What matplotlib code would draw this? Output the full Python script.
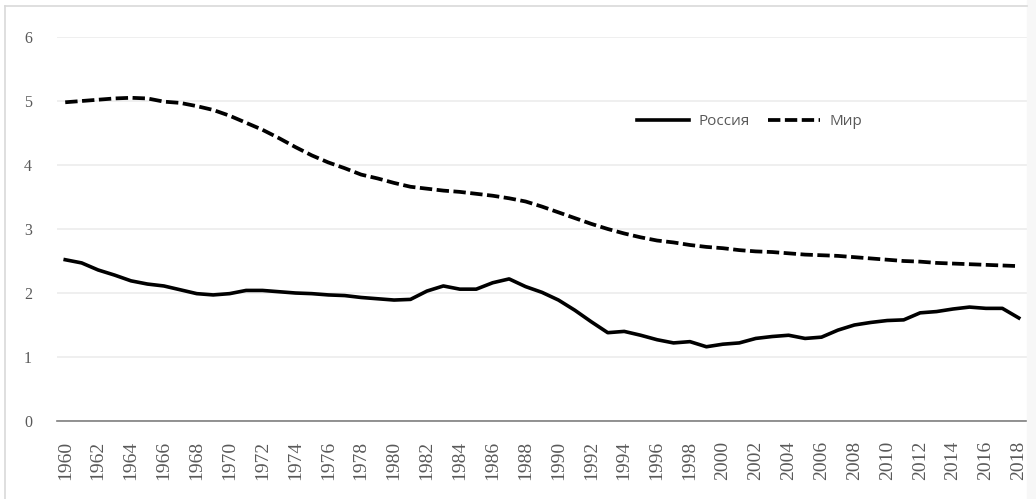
import matplotlib
matplotlib.use("Agg")
import matplotlib.pyplot as plt
import numpy as np

years = list(range(1960, 2019))

russia = [2.52, 2.47, 2.36, 2.28, 2.19, 2.14, 2.11, 2.05, 1.99, 1.97,
          1.99, 2.04, 2.04, 2.02, 2.00, 1.99, 1.97, 1.96, 1.93, 1.91,
          1.89, 1.90, 2.03, 2.11, 2.06, 2.06, 2.16, 2.22, 2.10, 2.01,
          1.89, 1.73, 1.55, 1.38, 1.40, 1.34, 1.27, 1.22, 1.24, 1.16,
          1.20, 1.22, 1.29, 1.32, 1.34, 1.29, 1.31, 1.42, 1.50, 1.54,
          1.57, 1.58, 1.69, 1.71, 1.75, 1.78, 1.76, 1.76, 1.61]

world = [4.98, 5.00, 5.02, 5.04, 5.05, 5.04, 4.99, 4.97, 4.92, 4.86,
         4.77, 4.66, 4.55, 4.42, 4.28, 4.15, 4.04, 3.95, 3.85, 3.79,
         3.72, 3.66, 3.63, 3.60, 3.58, 3.55, 3.52, 3.48, 3.43, 3.35,
         3.26, 3.17, 3.08, 3.00, 2.93, 2.87, 2.82, 2.79, 2.75, 2.72,
         2.70, 2.67, 2.65, 2.64, 2.62, 2.60, 2.59, 2.58, 2.56, 2.54,
         2.52, 2.50, 2.49, 2.47, 2.46, 2.45, 2.44, 2.43, 2.42]

labels = ["Россия", "Мир"]

fig = plt.figure(figsize=(10.36, 4.99), dpi=100)

# рамка вокруг диаграммы и светлая полоса справа
fig.patches.append(plt.Rectangle((1027 / 1036, 0), 9 / 1036, 1, transform=fig.transFigure,
                                 color="#f7f7f7", zorder=0))
fig.lines.append(plt.Line2D([5 / 1036, 5 / 1036], [0, 493 / 499], transform=fig.transFigure,
                            color="#d9d9d9", lw=1.2))
fig.lines.append(plt.Line2D([5 / 1036, 1027 / 1036], [493 / 499, 493 / 499],
                            transform=fig.transFigure, color="#d9d9d9", lw=1.2))

ax = fig.add_axes([57 / 1036, 78 / 499, 970 / 1036, 384 / 499])

x = np.arange(len(years))
ax.plot(x, russia, color="black", lw=2.6, solid_joinstyle="round", label=labels[0], zorder=3)
ax.plot(x, world, color="black", lw=2.7, ls=(0, (3.3, 1.2)), label=labels[1], zorder=3)

ax.set_xlim(-0.5, len(years) - 0.5)
ax.set_ylim(0, 6)
ax.set_yticks(range(0, 7))
ax.set_xticks(x[::2])
ax.set_xticklabels([str(y) for y in years[::2]], rotation=90, fontsize=14,
                   family="Liberation Serif", color="#595959")
for t in ax.get_yticklabels():
    t.set_family("Liberation Serif")
    t.set_fontsize(11.5)
    t.set_color("#595959")

ax.tick_params(axis="both", length=0)
ax.tick_params(axis="x", pad=14)
ax.tick_params(axis="y", pad=18)
ax.grid(axis="y", color="#ececec", lw=1.2)
ax.set_axisbelow(True)
for s in ["top", "right", "left"]:
    ax.spines[s].set_visible(False)
ax.spines["bottom"].set_color("#7f7f7f")
ax.spines["bottom"].set_linewidth(1.2)

leg = ax.legend(loc="center", bbox_to_anchor=(0.714, 0.78), ncol=2, frameon=False,
                handlelength=3.4, handletextpad=0.6, columnspacing=1.2,
                prop={"family": "Open Sans", "size": 11})
for t in leg.get_texts():
    t.set_color("#595959")

fig.savefig("out.png", dpi=100)
